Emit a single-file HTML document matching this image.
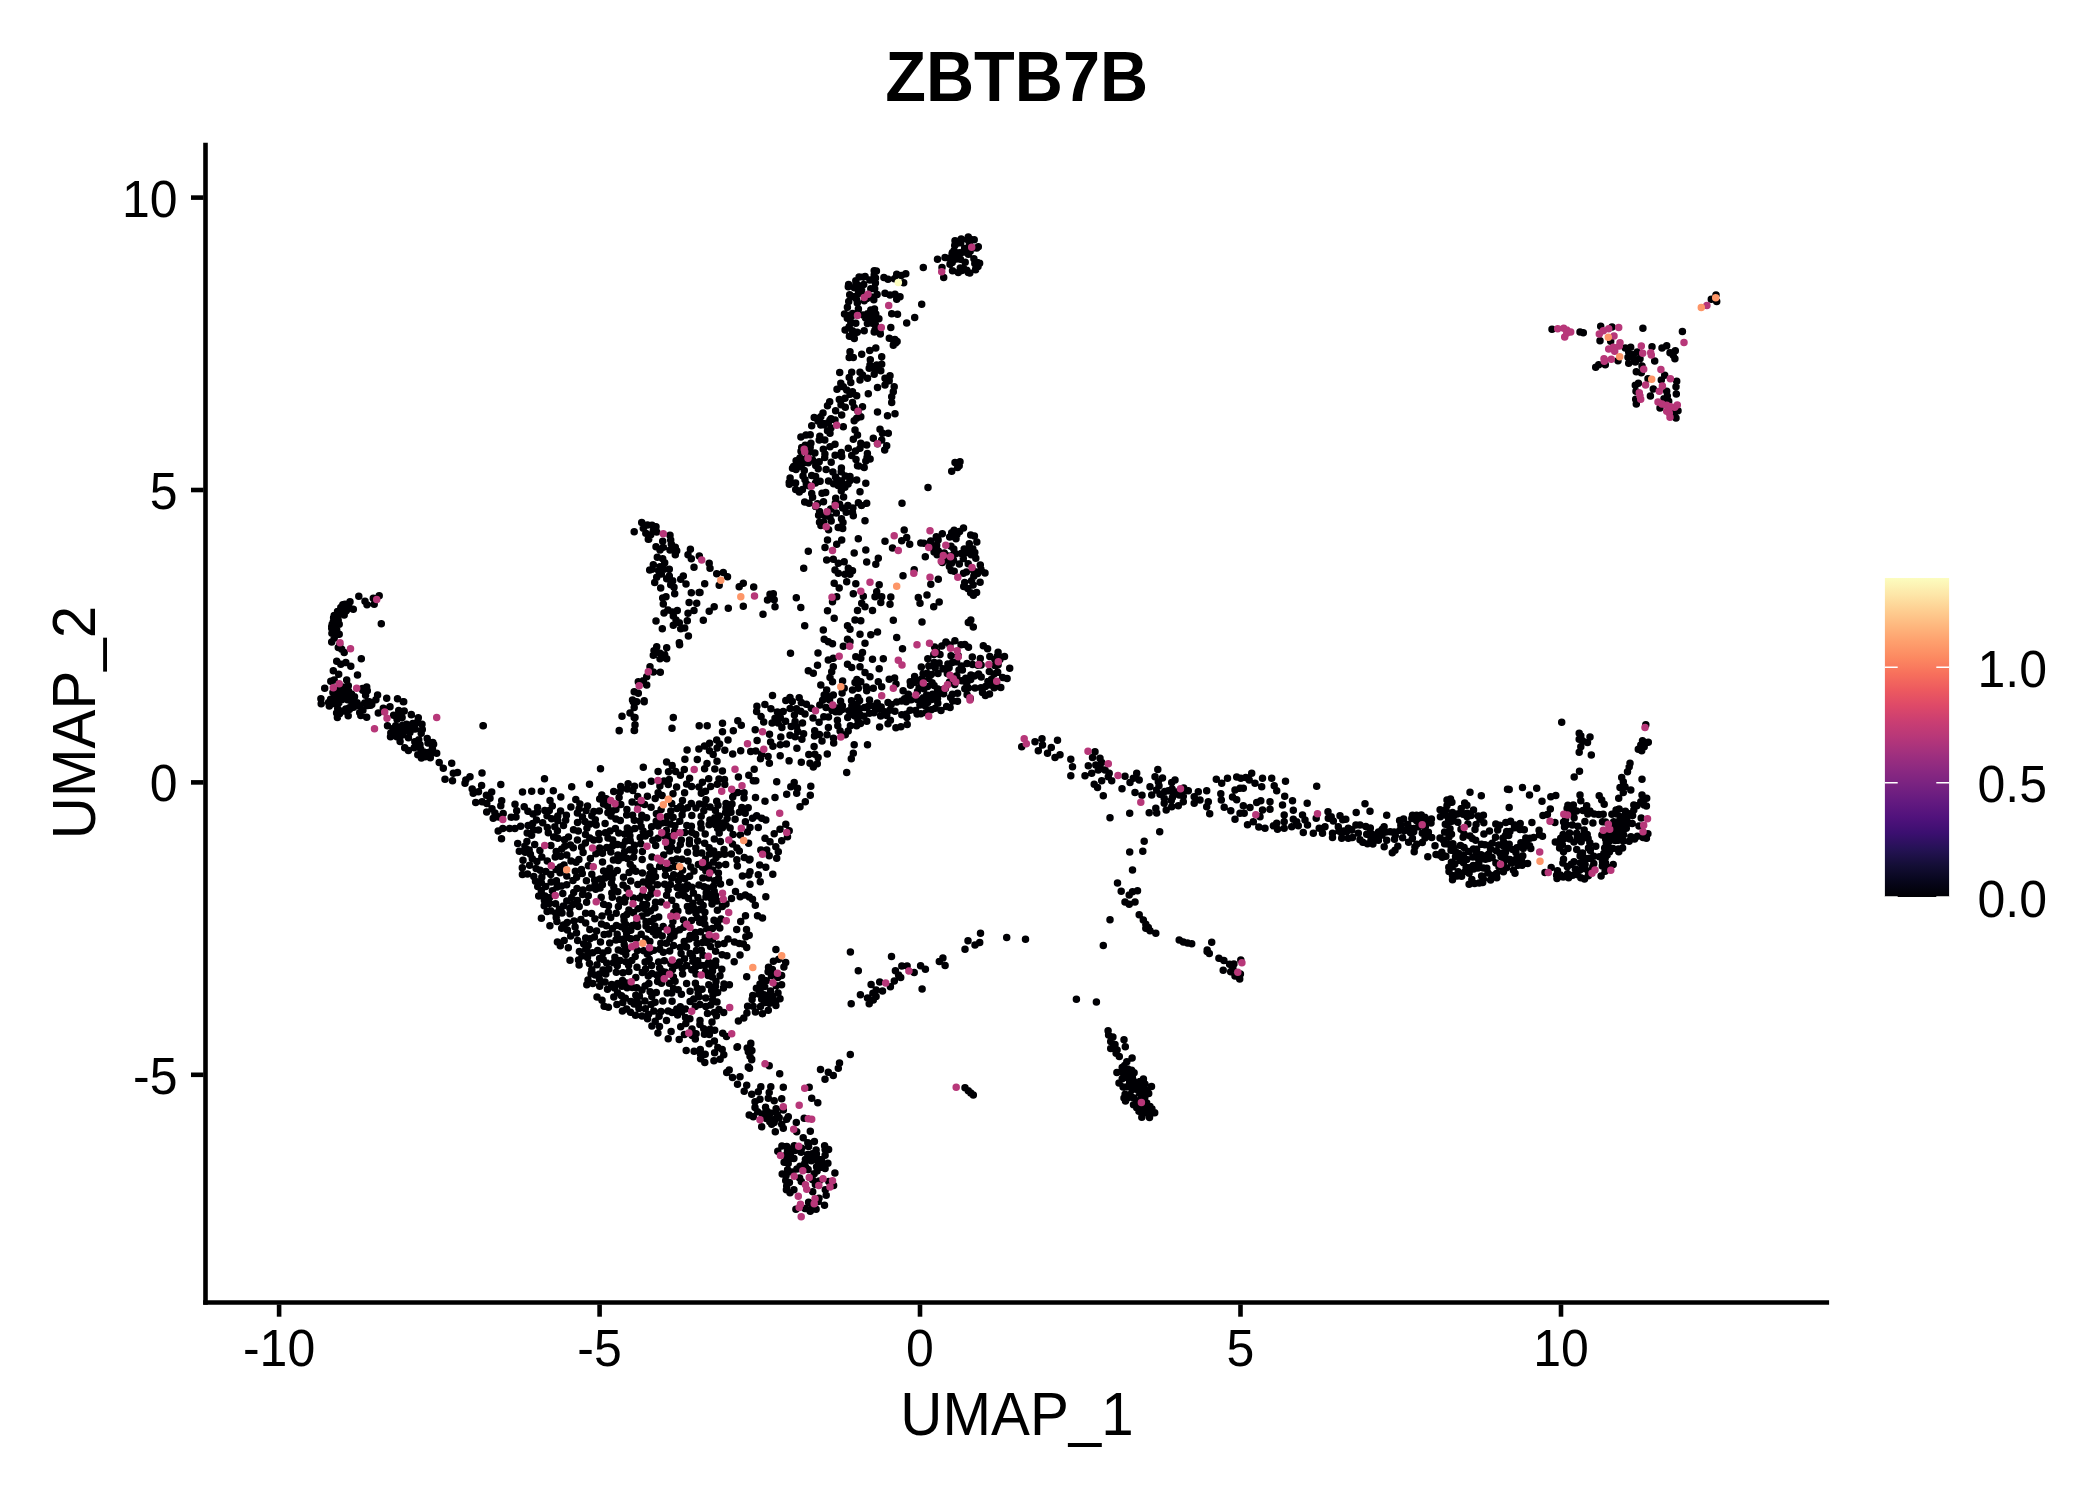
<!DOCTYPE html>
<html lang="en"><head><meta charset="utf-8"><title>ZBTB7B</title>
<style>
html,body{margin:0;padding:0;background:#fff;}
svg{display:block;}
text{font-family:"Liberation Sans",Arial,Helvetica,sans-serif;fill:#000;}
.ax{font-size:50px;}
.at{font-size:58.33px;}
.tt{font-size:66.67px;font-weight:bold;}
.pt{fill:none;stroke-linecap:round;stroke-width:7.5;}
</style></head><body>
<svg width="2100" height="1500" viewBox="0 0 2100 1500">
<rect x="0" y="0" width="2100" height="1500" fill="#ffffff"/>
<g id="points">
<path class="pt" stroke="#000004" d="M960.7 242.7h0M970.5 239.8h0M967.1 250.9h0M952.7 256.3h0M952.1 253.5h0M963.7 268.4h0M954.7 245.5h0M969.8 273.0h0M976.8 248.0h0M960.3 268.0h0M956.4 259.1h0M970.2 251.2h0M967.4 239.4h0M960.4 259.3h0M964.6 248.4h0M974.8 263.6h0M966.8 270.3h0M972.9 247.9h0M955.6 255.6h0M952.2 262.4h0M973.9 258.8h0M968.4 254.3h0M965.2 262.2h0M975.6 269.8h0M959.4 252.8h0M961.8 270.6h0M968.7 247.0h0M979.6 263.2h0M978.0 266.6h0M962.8 252.2h0M957.3 243.2h0M961.2 239.0h0M954.0 250.8h0M969.4 242.6h0M937.5 259.2h0M945.0 257.5h0M949.2 258.3h0M923.3 267.5h0M943.7 277.5h0M955.0 240.8h0M942.0 267.5h0M952.5 252.5h0M950.0 264.2h0M952.5 270.8h0M958.3 272.5h0M968.3 272.5h0M975.8 268.7h0M977.5 262.5h0M978.3 246.7h0M968.3 237.0h0M974.2 239.7h0M858.0 289.3h0M865.1 276.5h0M871.5 297.1h0M863.7 284.6h0M894.5 278.7h0M875.5 277.9h0M876.4 271.0h0M875.5 325.3h0M852.6 313.5h0M875.8 313.9h0M856.4 299.0h0M858.4 309.0h0M856.0 282.4h0M847.4 307.2h0M863.1 315.1h0M867.4 323.5h0M888.0 279.2h0M851.3 316.6h0M864.2 300.8h0M869.5 319.2h0M857.3 302.9h0M858.4 293.4h0M864.4 295.6h0M873.8 299.8h0M869.9 279.9h0M852.9 296.5h0M848.7 301.4h0M857.8 285.3h0M874.5 309.0h0M872.3 323.2h0M849.7 294.7h0M883.9 277.6h0M874.7 288.8h0M854.4 287.7h0M877.1 294.6h0M848.6 284.6h0M844.5 313.9h0M859.1 276.9h0M847.3 318.3h0M870.8 288.8h0M875.4 283.1h0M901.3 275.6h0M873.4 317.1h0M866.9 298.4h0M861.6 289.8h0M874.2 270.8h0M874.2 275.0h0M863.3 277.0h0M855.8 280.8h0M848.3 286.7h0M896.7 274.2h0M905.8 273.8h0M903.7 282.8h0M885.0 293.3h0M890.0 295.0h0M895.0 294.2h0M900.0 296.7h0M896.7 299.2h0M921.7 304.2h0M914.7 317.5h0M906.7 323.0h0M890.8 327.5h0M891.7 313.7h0M897.5 314.2h0M865.6 318.1h0M867.5 313.7h0M875.5 320.5h0M870.8 310.1h0M878.9 318.8h0M857.2 332.3h0M849.2 326.7h0M852.5 330.8h0M849.4 336.3h0M854.3 338.4h0M845.1 329.9h0M853.1 334.8h0M846.7 315.0h0M850.8 322.5h0M855.8 323.3h0M864.2 330.8h0M897.1 341.4h0M880.3 334.1h0M893.3 345.3h0M874.9 330.2h0M895.6 343.0h0M874.2 331.9h0M893.8 341.5h0M880.1 332.5h0M889.3 338.3h0M894.9 339.5h0M850.0 351.7h0M849.2 357.5h0M853.3 357.5h0M861.7 354.2h0M869.7 350.5h0M875.8 348.0h0M881.7 356.7h0M870.3 359.7h0M870.0 365.0h0M876.7 365.0h0M881.7 364.2h0M880.8 370.8h0M874.2 374.2h0M869.2 368.3h0M875.0 369.2h0M839.7 372.5h0M851.7 372.2h0M860.0 372.2h0M849.2 377.5h0M860.0 380.0h0M867.5 378.3h0M850.8 382.5h0M862.5 375.0h0M890.0 375.8h0M885.0 378.3h0M889.2 380.8h0M885.0 385.0h0M894.2 386.7h0M877.5 387.5h0M893.3 391.7h0M868.3 393.7h0M891.7 396.7h0M891.7 402.5h0M840.8 383.3h0M837.0 389.2h0M843.3 386.7h0M846.7 390.0h0M850.0 394.2h0M856.7 395.8h0M852.5 391.7h0M845.0 398.3h0M829.7 401.7h0M827.5 405.8h0M841.0 404.8h0M835.6 410.7h0M845.3 407.2h0M839.3 399.6h0M852.5 402.5h0M854.2 407.5h0M862.5 406.7h0M858.0 411.3h0M877.5 412.0h0M887.5 415.8h0M895.0 413.7h0M841.7 415.0h0M856.7 418.3h0M860.8 416.7h0M854.2 420.8h0M831.0 418.8h0M823.1 423.6h0M830.9 427.9h0M818.0 420.9h0M823.0 413.0h0M828.4 422.5h0M823.8 424.7h0M814.2 417.5h0M820.8 416.7h0M830.0 420.0h0M835.0 420.0h0M811.7 425.8h0M820.8 425.0h0M843.3 426.7h0M827.5 430.8h0M830.0 433.3h0M800.9 437.1h0M810.9 443.3h0M805.2 445.3h0M819.2 440.1h0M806.0 435.0h0M819.8 436.3h0M824.8 439.9h0M810.2 434.8h0M810.2 447.2h0M855.0 430.0h0M857.5 435.0h0M853.3 439.2h0M860.8 443.3h0M880.0 429.2h0M882.5 433.3h0M888.3 433.3h0M873.3 438.3h0M881.7 440.0h0M866.7 445.0h0M886.7 445.8h0M860.0 448.3h0M848.3 448.3h0M835.0 444.2h0M830.0 446.7h0M877.5 443.8h0M801.7 447.5h0M823.3 449.2h0M1552.0 329.3h0M1580.0 332.0h0M1583.3 332.7h0M1600.7 326.3h0M1612.0 327.1h0M1600.0 340.7h0M1610.7 341.3h0M1642.9 328.3h0M1682.4 331.5h0M1625.3 348.0h0M1630.7 347.3h0M1628.7 352.0h0M1633.3 354.7h0M1637.3 352.0h0M1628.0 357.3h0M1634.7 359.3h0M1640.0 358.7h0M1628.7 363.3h0M1635.3 362.0h0M1652.0 346.7h0M1654.7 360.9h0M1662.0 348.0h0M1666.7 345.7h0M1670.0 352.7h0M1675.3 350.7h0M1673.3 355.3h0M1674.9 358.7h0M1618.0 360.7h0M1605.3 364.7h0M1598.7 364.7h0M1595.7 367.3h0M1642.0 366.0h0M1636.3 371.7h0M1641.3 372.7h0M1648.0 378.7h0M1664.7 375.3h0M1661.3 380.0h0M1676.7 381.3h0M1676.0 386.7h0M1638.4 383.3h0M1635.3 385.3h0M1636.0 391.3h0M1653.3 389.1h0M1666.7 391.3h0M1676.3 394.0h0M1650.4 396.0h0M1667.3 396.0h0M1664.0 398.7h0M1635.7 399.3h0M1636.3 404.0h0M1668.7 401.3h0M1660.0 408.0h0M1678.0 410.7h0M1676.0 418.0h0M1673.3 413.3h0M1711.3 299.3h0M1716.0 294.9h0M1716.7 301.6h0M815.7 465.5h0M820.1 481.2h0M805.0 479.7h0M824.9 454.1h0M828.5 481.1h0M789.3 484.2h0M841.2 471.8h0M850.0 476.4h0M842.7 528.6h0M828.6 529.7h0M808.8 485.8h0M815.6 476.6h0M818.6 515.2h0M793.6 466.4h0M835.5 477.1h0M830.7 509.1h0M826.1 469.5h0M823.5 501.7h0M846.2 512.3h0M861.5 505.4h0M812.6 497.2h0M819.6 511.5h0M804.3 470.6h0M808.3 462.8h0M815.5 483.0h0M795.7 489.6h0M867.4 453.4h0M812.6 459.9h0M838.2 527.5h0M819.5 522.2h0M841.4 468.1h0M819.2 461.8h0M839.6 504.3h0M815.6 506.5h0M803.0 476.0h0M835.1 455.3h0M795.6 482.9h0M835.3 503.3h0M848.1 484.1h0M811.7 475.6h0M823.5 522.0h0M801.0 451.2h0M867.0 457.4h0M841.6 480.9h0M831.2 462.2h0M811.7 493.4h0M830.0 517.1h0M820.9 525.4h0M841.5 518.7h0M806.3 483.7h0M822.0 493.2h0M836.3 513.1h0M838.1 485.5h0M844.9 487.2h0M841.3 490.8h0M802.5 489.4h0M796.1 460.7h0M824.7 457.6h0M825.7 492.5h0M858.7 466.1h0M799.3 491.9h0M814.9 453.1h0M802.8 463.4h0M856.0 459.6h0M835.7 498.3h0M837.7 480.0h0M809.1 503.3h0M845.3 476.1h0M865.8 461.0h0M818.2 468.7h0M804.7 502.0h0M799.9 458.0h0M843.0 522.6h0M810.0 451.0h0M843.6 496.9h0M817.6 503.8h0M833.6 483.8h0M807.7 454.9h0M855.5 451.0h0M799.2 466.6h0M827.8 511.8h0M796.0 469.4h0M790.1 478.0h0M852.9 507.9h0M825.2 515.7h0M832.9 472.1h0M847.9 505.4h0M841.7 456.5h0M842.7 508.1h0M851.7 455.5h0M870.1 458.9h0M804.8 459.3h0M858.4 502.8h0M849.9 480.7h0M831.2 520.9h0M841.3 452.6h0M857.5 465.8h0M864.2 467.5h0M856.7 480.0h0M865.8 483.3h0M860.0 491.7h0M866.7 503.3h0M852.5 512.5h0M853.3 515.8h0M865.0 520.8h0M884.7 450.0h0M789.2 482.5h0M792.5 468.3h0M956.7 463.3h0M959.2 465.8h0M951.7 471.3h0M955.0 462.5h0M960.0 461.7h0M957.5 467.5h0M928.0 487.5h0M902.0 503.3h0M827.5 540.0h0M841.7 540.0h0M836.7 544.2h0M825.0 547.5h0M808.3 551.3h0M858.3 538.8h0M854.2 553.0h0M865.8 550.0h0M826.7 560.0h0M833.3 559.2h0M838.3 563.3h0M844.2 561.7h0M866.7 562.0h0M878.3 558.3h0M875.8 564.2h0M803.7 568.3h0M835.0 570.0h0M838.3 573.3h0M848.3 568.3h0M852.5 570.8h0M845.0 574.2h0M850.0 574.2h0M834.2 583.3h0M846.7 581.7h0M855.8 583.8h0M839.2 588.0h0M879.2 584.7h0M853.3 593.7h0M863.3 596.3h0M836.7 596.7h0M832.5 601.7h0M876.7 591.7h0M881.7 596.7h0M890.8 597.0h0M875.0 596.7h0M880.8 602.5h0M890.0 604.2h0M861.7 603.3h0M865.0 606.7h0M857.5 610.5h0M872.5 610.5h0M827.5 610.8h0M834.2 618.3h0M855.0 620.0h0M860.8 620.8h0M847.5 625.8h0M850.0 629.2h0M823.3 630.0h0M804.7 625.8h0M860.0 634.2h0M870.8 634.7h0M877.5 632.0h0M824.2 639.2h0M828.3 641.7h0M832.5 643.7h0M847.5 639.2h0M850.0 641.7h0M843.3 646.3h0M865.0 643.3h0M818.0 653.0h0M790.5 653.3h0M855.8 656.7h0M862.5 652.5h0M860.8 658.3h0M828.3 660.0h0M833.3 658.3h0M872.5 659.2h0M883.3 658.8h0M817.5 665.3h0M808.3 670.8h0M813.3 673.3h0M847.5 664.2h0M851.7 667.5h0M860.0 666.7h0M833.3 666.7h0M831.7 671.7h0M879.2 668.7h0M865.0 672.5h0M870.0 676.7h0M889.2 679.2h0M830.0 677.5h0M832.5 681.7h0M820.8 685.0h0M844.2 688.3h0M855.0 682.5h0M860.8 681.7h0M878.3 681.7h0M852.5 690.0h0M858.3 688.3h0M866.7 690.8h0M873.3 688.3h0M881.7 686.7h0M826.7 690.0h0M824.2 695.0h0M833.3 695.0h0M772.5 695.5h0M790.0 697.5h0M799.2 697.8h0M948.2 555.9h0M972.8 548.8h0M968.2 563.8h0M953.5 560.2h0M974.4 536.1h0M953.8 548.9h0M976.8 542.1h0M954.1 530.3h0M963.5 528.0h0M973.8 576.3h0M973.8 570.9h0M944.3 553.1h0M951.5 563.3h0M971.6 580.7h0M964.2 549.0h0M942.3 533.8h0M977.6 573.5h0M970.7 534.9h0M959.6 531.5h0M936.3 536.7h0M930.7 541.1h0M942.3 562.6h0M931.0 547.4h0M949.7 537.0h0M934.1 552.1h0M954.2 571.2h0M951.7 532.8h0M961.3 553.4h0M970.6 592.8h0M949.4 566.6h0M971.2 554.7h0M980.1 582.3h0M967.8 588.4h0M966.4 571.9h0M951.0 546.2h0M937.1 554.8h0M951.1 570.4h0M964.7 582.6h0M946.6 560.0h0M957.1 534.3h0M973.4 595.3h0M959.3 564.0h0M963.7 586.6h0M955.6 553.8h0M966.8 552.4h0M923.9 543.2h0M967.7 549.2h0M956.0 538.8h0M974.8 552.4h0M973.1 585.1h0M963.3 558.4h0M975.8 558.3h0M938.3 551.1h0M969.3 543.7h0M936.7 545.3h0M952.8 555.2h0M963.5 573.3h0M976.6 592.6h0M985.0 573.0h0M980.9 569.3h0M980.3 565.1h0M938.1 540.0h0M904.2 530.0h0M885.0 541.2h0M892.5 548.0h0M901.7 540.8h0M906.7 537.5h0M909.7 544.2h0M920.8 543.0h0M925.3 556.7h0M914.2 569.7h0M903.0 575.8h0M930.8 584.2h0M938.3 579.2h0M927.0 595.0h0M918.3 597.5h0M920.0 603.3h0M939.2 602.0h0M933.7 606.7h0M893.3 620.3h0M922.0 622.0h0M970.8 620.0h0M968.3 622.5h0M973.3 627.0h0M896.7 637.5h0M902.5 648.7h0M709.2 563.3h0M710.0 568.3h0M716.7 573.7h0M723.3 572.5h0M727.5 576.7h0M704.7 583.7h0M719.2 585.3h0M739.2 586.7h0M743.3 583.3h0M753.7 587.0h0M700.0 592.5h0M770.0 594.2h0M773.3 593.7h0M767.5 600.0h0M774.2 599.7h0M775.0 606.7h0M796.3 597.8h0M800.8 607.5h0M743.3 606.2h0M728.3 608.3h0M714.2 606.7h0M709.2 611.3h0M763.0 614.2h0M703.3 620.3h0M921.3 667.0h0M959.0 670.1h0M994.9 665.4h0M965.7 678.2h0M994.9 659.4h0M950.6 697.4h0M914.6 676.4h0M970.7 679.4h0M1004.5 656.5h0M1009.7 668.2h0M957.6 693.3h0M910.2 681.7h0M972.3 657.0h0M987.6 648.7h0M952.4 662.5h0M964.8 688.7h0M937.4 688.8h0M949.1 667.7h0M935.2 667.9h0M989.8 656.5h0M940.0 654.4h0M982.5 692.6h0M926.6 694.9h0M989.5 694.1h0M970.9 675.1h0M929.0 678.4h0M954.7 684.6h0M910.5 685.3h0M1002.6 677.6h0M945.4 688.5h0M989.3 671.5h0M933.8 654.6h0M951.0 655.7h0M951.9 676.7h0M919.1 687.7h0M967.1 694.7h0M947.3 673.5h0M956.6 661.8h0M932.1 682.7h0M987.9 681.4h0M996.5 682.4h0M981.1 664.9h0M975.0 688.1h0M983.3 645.8h0M967.0 663.5h0M974.4 675.9h0M970.3 698.5h0M994.0 674.1h0M939.1 662.9h0M999.9 659.5h0M978.6 674.1h0M1000.8 687.5h0M934.3 662.5h0M968.3 688.0h0M994.2 687.8h0M997.7 672.2h0M991.4 679.5h0M985.4 695.6h0M931.2 674.4h0M977.8 665.2h0M985.5 686.5h0M954.9 640.7h0M991.4 685.2h0M961.5 666.0h0M968.5 647.3h0M980.3 658.6h0M961.0 644.7h0M911.3 699.8h0M945.9 641.9h0M923.1 673.8h0M942.9 668.8h0M934.1 685.6h0M998.1 664.8h0M1007.1 678.5h0M947.9 664.1h0M923.4 697.8h0M943.6 693.7h0M981.2 677.0h0M921.9 684.1h0M938.0 673.4h0M921.7 679.0h0M972.6 664.4h0M956.8 675.8h0M964.8 644.4h0M998.1 652.3h0M949.9 645.1h0M941.8 645.9h0M958.2 655.7h0M928.8 666.0h0M936.7 651.8h0M927.8 658.7h0M937.1 693.3h0M937.5 698.6h0M952.4 694.3h0M981.0 687.8h0M913.6 682.6h0M949.5 681.9h0M941.9 689.7h0M908.3 694.2h0M934.6 647.1h0M997.5 655.9h0M962.4 669.9h0M916.8 680.4h0M961.6 680.7h0M917.5 691.5h0M966.8 683.5h0M923.9 688.7h0M358.8 596.3h0M365.0 601.2h0M367.0 604.7h0M374.2 604.2h0M379.2 595.8h0M373.3 598.3h0M350.0 601.7h0M345.0 604.2h0M340.8 607.5h0M353.3 609.2h0M346.7 610.0h0M344.2 615.0h0M337.5 615.8h0M340.0 613.3h0M333.3 621.7h0M339.2 624.2h0M335.8 625.8h0M331.7 628.3h0M336.7 630.0h0M334.2 632.5h0M339.2 634.2h0M334.2 638.3h0M331.7 642.0h0M335.1 630.1h0M334.4 626.6h0M332.3 629.7h0M344.9 609.5h0M331.9 633.2h0M332.2 624.3h0M334.2 615.4h0M343.8 609.9h0M342.0 610.9h0M340.7 612.7h0M342.8 604.8h0M333.3 631.4h0M331.7 626.6h0M337.7 621.5h0M341.9 610.8h0M338.2 620.3h0M337.5 611.4h0M342.5 608.9h0M333.6 617.8h0M343.4 609.9h0M348.9 607.2h0M343.7 610.2h0M346.0 611.1h0M333.7 627.2h0M338.0 622.1h0M338.5 614.9h0M338.3 647.5h0M341.7 649.2h0M344.2 652.5h0M339.7 645.0h0M381.3 623.8h0M361.3 658.7h0M336.7 661.3h0M340.8 664.2h0M345.8 662.5h0M350.8 666.3h0M333.3 670.8h0M338.7 674.2h0M357.5 675.0h0M330.8 681.3h0M334.2 680.0h0M346.7 680.0h0M348.3 685.8h0M346.5 695.4h0M332.9 692.4h0M349.1 697.8h0M339.5 713.7h0M332.6 703.6h0M347.8 694.5h0M377.6 694.9h0M364.7 690.3h0M344.7 687.1h0M341.6 699.7h0M362.5 688.6h0M362.7 690.2h0M338.6 696.7h0M358.9 705.5h0M349.4 709.6h0M362.9 710.3h0M346.8 711.2h0M360.8 715.5h0M353.5 701.6h0M343.4 711.1h0M370.7 705.2h0M341.1 700.1h0M345.8 709.1h0M335.9 698.0h0M351.7 697.8h0M337.7 711.2h0M369.3 701.7h0M345.0 691.1h0M336.6 689.8h0M352.9 704.4h0M337.8 713.1h0M330.6 699.2h0M321.2 703.8h0M348.2 715.7h0M364.7 702.9h0M349.4 707.8h0M341.7 696.9h0M354.0 696.7h0M340.8 698.4h0M352.0 704.1h0M347.5 699.7h0M338.9 702.7h0M367.3 690.7h0M337.4 717.6h0M367.9 702.1h0M359.7 712.4h0M343.6 690.2h0M335.7 702.1h0M348.6 691.3h0M329.3 706.0h0M354.5 696.8h0M320.9 698.7h0M365.6 695.2h0M336.6 713.1h0M353.5 707.3h0M330.1 701.6h0M351.5 693.9h0M357.1 702.7h0M343.0 689.1h0M324.7 688.3h0M328.6 702.4h0M367.7 705.4h0M366.7 687.1h0M337.7 708.8h0M339.6 690.6h0M334.3 688.3h0M339.3 700.0h0M341.5 686.8h0M371.8 704.4h0M375.9 699.7h0M386.7 698.3h0M397.5 698.8h0M403.7 701.7h0M390.0 706.7h0M383.3 708.3h0M378.3 713.0h0M398.3 715.0h0M411.3 714.5h0M366.7 717.2h0M483.0 725.8h0M416.9 722.5h0M431.6 753.1h0M400.1 741.5h0M404.7 747.8h0M395.7 725.7h0M393.2 728.4h0M404.4 730.8h0M397.0 719.3h0M402.1 717.4h0M390.8 732.9h0M428.3 752.5h0M422.3 729.4h0M396.0 733.4h0M415.1 728.9h0M390.5 736.7h0M412.8 723.6h0M418.8 739.7h0M400.5 730.1h0M387.5 725.8h0M422.0 724.2h0M425.1 756.7h0M398.7 710.6h0M420.0 744.8h0M393.6 715.2h0M432.4 748.6h0M404.2 711.1h0M414.2 747.7h0M420.7 748.9h0M428.0 742.9h0M396.8 736.8h0M402.6 725.2h0M427.2 738.6h0M408.4 750.4h0M421.2 733.2h0M408.8 728.6h0M409.9 732.4h0M433.6 744.2h0M417.8 754.7h0M421.4 757.9h0M406.5 724.3h0M641.7 522.5h0M634.2 531.7h0M643.3 528.3h0M647.5 525.0h0M648.3 539.2h0M645.8 533.3h0M649.7 570.0h0M646.7 676.7h0M643.3 680.8h0M638.3 681.7h0M646.7 685.0h0M634.2 691.7h0M638.3 693.3h0M632.5 700.0h0M636.7 701.7h0M644.2 700.8h0M634.2 707.5h0M630.0 713.0h0M622.0 716.2h0M634.2 717.5h0M635.0 724.7h0M619.2 730.8h0M634.2 730.5h0M483.3 725.8h0M411.3 714.7h0M403.3 701.7h0M432.8 742.5h0M482.0 773.0h0M500.8 784.5h0M544.5 778.8h0M600.5 768.8h0M643.3 767.2h0M589.5 784.2h0M571.7 786.7h0M522.5 792.0h0M531.7 791.3h0M541.3 791.2h0M553.3 790.8h0M560.8 797.0h0M550.0 800.5h0M575.8 799.5h0M491.7 792.0h0M501.7 800.8h0M500.8 805.8h0M515.0 804.2h0M524.2 806.7h0M516.7 810.8h0M537.5 807.5h0M414.8 741.7h0M430.3 757.8h0M418.3 717.7h0M408.4 737.8h0M402.4 735.1h0M423.8 752.0h0M436.7 753.3h0M439.2 762.5h0M443.3 768.3h0M451.7 763.3h0M457.5 772.5h0M453.3 773.3h0M445.0 779.2h0M452.5 780.8h0M465.0 783.3h0M470.0 776.7h0M465.8 780.0h0M486.7 812.1h0M473.2 793.3h0M481.6 785.5h0M492.0 808.8h0M478.5 791.8h0M472.2 788.9h0M486.4 795.2h0M490.0 798.3h0M493.2 818.2h0M475.7 802.6h0M494.9 813.0h0M482.1 801.7h0M486.8 803.5h0M633.3 701.7h0M644.2 701.7h0M634.2 707.5h0M630.0 713.0h0M622.0 716.3h0M635.0 717.5h0M635.0 725.0h0M619.2 730.5h0M634.5 730.5h0M673.3 717.5h0M672.0 728.3h0M699.2 725.8h0M707.2 725.8h0M722.5 723.3h0M737.8 720.8h0M722.5 731.7h0M733.3 730.8h0M716.7 740.0h0M728.0 740.0h0M692.0 1028.9h0M692.9 961.2h0M657.6 884.7h0M717.8 1047.6h0M669.4 868.0h0M690.1 991.3h0M625.8 961.8h0M585.7 937.9h0M599.7 799.1h0M582.3 873.5h0M556.4 880.8h0M717.4 910.2h0M609.7 942.9h0M573.5 829.8h0M644.6 804.6h0M692.9 903.2h0M716.7 801.2h0M566.8 854.9h0M502.8 828.6h0M715.6 965.4h0M718.5 878.5h0M531.6 835.3h0M550.7 874.5h0M686.6 965.6h0M599.5 974.1h0M601.8 794.9h0M655.5 876.7h0M622.1 951.2h0M562.0 913.1h0M680.2 875.2h0M520.6 826.2h0M604.1 934.4h0M645.9 939.1h0M663.3 952.2h0M690.1 1001.6h0M567.4 930.1h0M735.1 819.3h0M662.8 1001.1h0M624.0 939.1h0M589.5 824.3h0M730.1 827.9h0M613.4 873.6h0M725.6 812.5h0M682.5 800.5h0M639.7 898.0h0M655.7 845.4h0M560.7 856.2h0M606.8 847.5h0M659.6 866.5h0M748.6 843.3h0M641.1 826.4h0M580.9 919.4h0M722.4 827.7h0M669.7 951.1h0M720.4 841.4h0M720.5 884.0h0M503.2 813.6h0M683.2 809.6h0M729.4 984.7h0M720.1 1059.2h0M555.6 903.8h0M719.3 816.1h0M620.3 820.4h0M605.4 832.7h0M670.4 823.9h0M585.4 842.9h0M682.0 859.3h0M541.8 856.9h0M625.7 897.5h0M637.8 884.6h0M662.2 935.9h0M635.8 977.4h0M678.6 895.0h0M577.5 900.6h0M731.3 854.1h0M651.6 888.7h0M557.9 838.2h0M695.3 1039.1h0M579.1 964.9h0M635.9 871.3h0M685.8 1023.5h0M656.3 992.4h0M592.8 983.5h0M596.6 930.9h0M652.0 973.6h0M578.5 960.0h0M634.4 845.2h0M652.0 857.0h0M679.6 929.7h0M617.6 844.6h0M630.8 930.3h0M630.5 1012.2h0M557.4 830.8h0M704.9 912.3h0M659.1 1016.2h0M707.5 1013.4h0M528.1 825.5h0M560.6 811.1h0M628.9 910.1h0M610.7 917.4h0M699.0 996.7h0M589.8 929.4h0M557.1 886.9h0M583.0 889.9h0M501.5 838.8h0M714.3 839.1h0M604.1 1006.2h0M571.7 897.4h0M661.0 1011.5h0M677.1 887.4h0M665.4 875.2h0M647.0 912.9h0M602.0 916.0h0M722.3 906.5h0M621.3 926.8h0M705.6 971.7h0M684.3 895.7h0M637.1 999.7h0M691.8 815.4h0M703.8 810.8h0M669.3 983.2h0M619.1 797.5h0M671.8 900.3h0M703.7 1028.8h0M533.8 876.6h0M628.1 783.7h0M637.6 926.6h0M699.9 1024.4h0M591.6 913.4h0M637.7 796.5h0M576.5 932.9h0M600.5 941.9h0M578.9 859.4h0M698.4 864.5h0M676.8 1009.1h0M606.7 962.9h0M638.9 1008.6h0M623.0 972.7h0M549.3 810.5h0M663.7 854.9h0M673.0 793.8h0M708.5 865.1h0M577.6 940.6h0M614.5 988.1h0M605.8 974.1h0M630.2 864.3h0M715.6 951.2h0M532.3 858.7h0M610.8 852.0h0M684.8 832.6h0M696.4 950.6h0M613.7 791.5h0M626.9 809.5h0M643.2 881.9h0M591.8 969.7h0M538.5 830.0h0M710.1 1029.2h0M632.6 815.3h0M615.4 828.4h0M632.5 925.4h0M589.8 838.0h0M599.1 839.6h0M529.2 849.9h0M717.5 924.0h0M697.1 943.4h0M671.3 846.9h0M686.8 825.5h0M695.4 983.2h0M672.0 1012.5h0M601.2 897.2h0M519.3 851.3h0M682.6 974.1h0M697.3 917.8h0M622.8 1002.5h0M658.0 838.3h0M655.2 1021.3h0M696.0 808.1h0M678.5 880.8h0M667.2 993.0h0M685.5 1017.6h0M696.2 853.3h0M709.1 847.7h0M547.1 911.6h0M556.9 921.4h0M695.3 1006.6h0M705.9 897.0h0M708.6 878.1h0M647.5 1018.7h0M620.7 786.6h0M602.9 953.1h0M551.1 882.1h0M570.9 806.9h0M608.8 969.1h0M701.2 816.2h0M705.2 834.1h0M722.1 954.7h0M701.8 853.0h0M586.1 810.6h0M627.0 888.6h0M654.9 907.7h0M664.3 960.8h0M668.2 1038.7h0M623.0 884.9h0M744.0 798.1h0M708.2 975.4h0M638.0 908.7h0M681.4 994.2h0M722.5 822.9h0M570.7 936.0h0M668.2 889.7h0M671.8 860.5h0M705.9 1006.6h0M584.9 821.6h0M540.2 870.3h0M740.4 835.0h0M607.9 812.7h0M562.8 893.5h0M564.5 839.7h0M708.8 962.3h0M694.0 871.1h0M616.0 940.1h0M566.7 884.7h0M570.0 960.3h0M635.8 995.3h0M672.1 1001.2h0M684.8 878.7h0M585.5 834.6h0M628.9 971.4h0M601.5 924.1h0M712.5 971.0h0M642.2 859.5h0M710.7 1005.1h0M709.1 824.8h0M704.7 965.6h0M675.1 981.2h0M705.5 859.3h0M550.9 845.4h0M588.0 979.9h0M656.2 821.3h0M701.3 793.2h0M640.8 843.7h0M697.7 841.1h0M632.9 790.6h0M624.7 902.0h0M680.3 947.5h0M700.5 1054.1h0M612.0 878.7h0M545.0 896.0h0M568.5 837.0h0M608.0 838.0h0M564.2 940.6h0M686.2 1050.4h0M715.5 986.3h0M586.9 828.3h0M541.3 882.5h0M612.1 810.9h0M625.5 841.2h0M607.5 989.3h0M709.9 819.9h0M695.9 913.2h0M632.1 802.1h0M721.0 919.1h0M593.8 811.4h0M646.6 817.7h0M645.1 962.1h0M675.9 906.4h0M677.6 849.9h0M684.6 792.8h0M732.5 844.1h0M563.5 825.4h0M701.2 828.1h0M696.1 1033.8h0M712.4 939.3h0M704.8 924.2h0M653.8 950.3h0M699.3 804.0h0M549.4 903.4h0M712.0 1022.1h0M648.5 929.2h0M612.3 897.3h0M651.6 965.5h0M708.8 984.8h0M712.0 903.9h0M719.2 832.9h0M573.0 880.6h0M579.1 808.8h0M689.9 1018.8h0M705.8 870.8h0M741.8 807.4h0M747.4 831.9h0M671.7 993.1h0M687.5 852.3h0M671.9 841.2h0M659.8 949.3h0M533.0 813.9h0M691.7 832.3h0M522.3 867.8h0M645.5 969.1h0M542.7 822.7h0M679.8 821.2h0M525.2 852.3h0M553.7 836.9h0M552.4 890.7h0M589.4 963.5h0M677.0 808.5h0M629.8 849.8h0M577.4 840.1h0M664.7 884.2h0M618.8 832.9h0M627.2 788.9h0M661.7 823.0h0M700.3 1049.6h0M517.7 843.4h0M686.5 947.1h0M736.9 848.0h0M612.5 846.0h0M600.0 879.1h0M557.8 816.1h0M721.8 969.3h0M714.6 1052.8h0M717.2 900.9h0M626.7 815.0h0M645.3 1008.7h0M724.1 943.4h0M561.7 848.9h0M684.5 958.7h0M616.3 972.2h0M676.4 965.2h0M695.8 847.9h0M549.4 897.8h0M603.5 804.0h0M541.4 918.3h0M537.7 886.6h0M657.6 981.5h0M690.8 867.1h0M632.3 987.4h0M498.2 831.0h0M555.2 857.0h0M629.1 872.6h0M697.3 988.2h0M645.3 836.1h0M640.0 821.1h0M680.3 844.5h0M575.3 871.3h0M651.1 807.2h0M547.0 815.8h0M625.2 929.5h0M630.9 1001.4h0M594.9 918.8h0M617.7 983.6h0M691.9 887.2h0M727.1 818.5h0M614.9 957.3h0M607.7 806.3h0M514.9 828.4h0M582.5 816.9h0M684.4 1034.4h0M570.0 913.7h0M678.2 989.7h0M739.4 812.3h0M702.8 877.9h0M578.3 830.9h0M544.4 900.4h0M642.4 784.9h0M690.1 953.6h0M589.6 888.0h0M524.9 846.3h0M657.9 1033.1h0M662.1 795.6h0M583.1 852.6h0M522.4 874.6h0M682.6 870.2h0M718.1 944.2h0M706.8 928.7h0M619.5 899.8h0M673.1 817.3h0M646.5 904.4h0M685.4 1008.9h0M666.1 822.5h0M700.3 901.9h0M566.8 900.9h0M626.8 914.5h0M561.7 928.2h0M645.1 986.0h0M686.6 983.5h0M676.8 859.1h0M709.1 1043.8h0M613.4 962.8h0M547.3 827.6h0M552.3 806.1h0M545.9 871.4h0M624.7 834.0h0M618.4 906.5h0M533.6 829.9h0M586.6 902.3h0M596.2 825.1h0M598.8 833.6h0M658.7 917.0h0M651.1 1004.4h0M595.1 884.7h0M566.8 876.1h0M700.8 823.6h0M679.2 1039.6h0M730.3 807.4h0M714.2 891.2h0M744.1 792.8h0M511.2 817.2h0M656.4 813.8h0M595.9 853.7h0M535.5 881.3h0M649.1 877.4h0M714.4 1040.9h0M541.3 890.5h0M699.9 1004.4h0M666.3 943.3h0M577.0 888.6h0M704.8 1062.4h0M651.6 826.8h0M714.0 920.3h0M523.0 860.3h0M661.1 809.6h0M621.9 986.3h0M688.9 911.1h0M715.5 895.6h0M733.0 834.4h0M623.5 877.2h0M616.9 1004.4h0M555.7 913.1h0M705.2 1054.2h0M670.0 938.8h0M621.8 857.8h0M590.0 938.8h0M745.4 821.7h0M594.4 936.9h0M670.4 884.5h0M650.0 867.0h0M548.3 832.7h0M719.8 927.9h0M599.5 979.4h0M745.2 813.3h0M724.7 854.2h0M624.2 944.6h0M634.5 786.3h0M617.8 891.7h0M649.8 833.2h0M661.2 901.9h0M575.1 926.9h0M536.1 868.4h0M655.2 798.5h0M624.1 920.2h0M622.4 1010.9h0M673.5 945.6h0M680.7 1026.7h0M658.1 826.0h0M640.2 837.6h0M603.0 970.0h0M704.1 918.6h0M611.4 883.3h0M695.5 967.2h0M683.5 920.0h0M590.4 858.4h0M603.6 870.9h0M536.9 861.5h0M591.8 815.8h0M597.6 950.5h0M595.7 889.3h0M689.6 876.2h0M642.4 873.1h0M602.4 884.8h0M713.7 850.9h0M655.1 1002.2h0M687.4 906.6h0M748.2 807.7h0M606.4 925.7h0M581.9 956.0h0M588.3 895.8h0M599.7 847.9h0M707.5 888.1h0M635.2 956.5h0M707.0 942.4h0M687.5 885.0h0M571.0 860.9h0M608.4 1007.2h0M702.1 989.2h0M651.9 1025.9h0M682.2 968.2h0M616.4 925.4h0M649.2 959.2h0M696.0 973.9h0M703.2 905.6h0M544.8 810.5h0M534.7 844.6h0M617.2 934.2h0M641.2 934.2h0M659.8 977.6h0M560.3 866.9h0M613.8 887.1h0M688.5 898.5h0M608.5 905.7h0M642.4 851.4h0M615.9 819.1h0M681.3 839.9h0M659.6 967.9h0M608.7 874.0h0M688.1 860.9h0M724.0 849.4h0M602.5 853.3h0M715.4 810.4h0M567.3 922.6h0M544.2 905.7h0M568.3 947.7h0M699.7 922.3h0M625.7 924.6h0M703.0 955.2h0M638.2 804.5h0M617.3 965.8h0M617.3 870.4h0M666.4 830.2h0M624.5 851.7h0M633.6 857.2h0M702.6 942.4h0M693.8 908.1h0M613.8 997.0h0M577.4 813.1h0M653.8 1010.9h0M697.7 960.8h0M574.1 921.1h0M597.0 964.7h0M599.3 810.9h0M636.7 987.7h0M675.3 931.6h0M694.1 1051.3h0M594.6 879.9h0M709.7 894.4h0M536.4 819.9h0M704.7 843.3h0M716.4 1015.8h0M634.3 820.3h0M667.3 816.5h0M693.9 998.9h0M537.4 812.1h0M687.5 807.8h0M695.4 932.5h0M691.4 826.3h0M709.4 1034.5h0M569.8 908.2h0M722.2 1049.5h0M608.7 934.1h0M637.0 967.2h0M620.2 791.7h0M611.7 984.5h0M581.6 847.3h0M573.3 847.7h0M675.2 866.5h0M695.4 937.7h0M643.1 830.9h0M682.1 815.0h0M627.3 858.4h0M527.2 832.9h0M560.3 945.7h0M609.9 868.3h0M585.7 923.0h0M665.3 836.4h0M655.5 902.3h0M566.4 815.3h0M714.8 817.8h0M582.5 894.6h0M702.5 867.2h0M620.8 804.4h0M681.1 953.5h0M608.0 950.4h0M672.9 921.5h0M626.6 1009.0h0M660.8 943.3h0M673.5 988.5h0M637.4 950.5h0M700.6 1058.8h0M526.9 841.5h0M646.0 921.8h0M603.6 904.3h0M583.7 944.1h0M579.2 906.4h0M563.3 906.1h0M597.0 997.0h0M565.7 820.2h0M673.8 912.4h0M630.2 840.5h0M541.8 877.2h0M705.2 937.7h0M651.9 881.0h0M663.2 926.5h0M577.5 822.5h0M529.6 865.3h0M712.3 977.0h0M697.9 897.6h0M538.7 895.9h0M636.5 938.2h0M641.8 815.3h0M718.4 873.1h0M689.3 939.1h0M630.8 938.8h0M633.5 898.1h0M618.2 860.6h0M699.0 885.0h0M720.0 975.8h0M700.6 931.7h0M724.0 984.1h0M677.6 1015.0h0M516.0 817.0h0M616.2 913.3h0M586.4 880.8h0M705.9 799.8h0M588.2 945.4h0M718.9 854.7h0M561.4 885.9h0M666.5 1020.5h0M530.4 854.3h0M648.5 885.2h0M651.8 996.6h0M617.6 992.8h0M587.5 957.4h0M560.1 872.8h0M527.5 874.0h0M602.0 1000.2h0M622.5 980.6h0M711.6 990.6h0M652.8 840.3h0M715.8 960.9h0M593.7 840.1h0M612.7 840.1h0M704.4 1034.3h0M726.0 803.5h0M642.3 972.6h0M658.2 930.5h0M712.9 994.9h0M539.9 850.4h0M605.0 982.0h0M595.3 819.8h0M617.9 855.0h0M509.6 828.4h0M715.4 824.7h0M625.8 954.5h0M647.4 796.2h0M717.6 828.6h0M557.8 820.8h0M612.4 928.5h0M695.8 834.6h0M586.8 984.8h0M643.7 908.2h0M551.6 818.7h0M557.4 942.0h0M713.4 886.3h0M648.6 1014.3h0M654.8 926.1h0M634.9 828.6h0M716.0 981.4h0M691.3 803.4h0M613.4 860.0h0M554.8 826.7h0M717.0 1001.9h0M654.1 918.5h0M626.3 982.9h0M713.4 862.1h0M650.1 991.8h0M709.5 854.0h0M670.6 933.3h0M732.7 796.9h0M635.5 1015.3h0M579.9 803.9h0M631.8 960.4h0M608.3 912.2h0M532.7 823.4h0M606.3 798.7h0M572.9 904.5h0M556.2 851.5h0M718.7 865.2h0M592.7 952.7h0M674.5 831.2h0M705.8 998.1h0M710.1 806.9h0M633.5 912.8h0M627.1 987.7h0M712.4 928.4h0M628.6 965.3h0M602.5 862.0h0M737.9 792.6h0M498.8 817.1h0M587.5 805.9h0M630.3 830.1h0M642.0 1016.1h0M599.7 986.2h0M642.0 990.0h0M666.6 895.3h0M673.4 976.9h0M705.5 791.3h0M671.7 878.2h0M684.2 941.4h0M650.8 894.3h0M527.9 811.2h0M665.5 972.3h0M627.3 949.1h0M621.5 995.8h0M549.9 925.8h0M671.1 1031.4h0M682.7 887.0h0M719.0 1009.5h0M585.6 913.3h0M625.3 998.2h0M547.3 861.0h0M674.9 825.8h0M691.5 920.6h0M622.8 845.3h0M726.0 904.1h0M717.6 821.4h0M648.3 976.1h0M704.0 886.8h0M726.9 955.8h0M749.2 935.2h0M692.5 956.7h0M701.3 950.2h0M731.0 812.3h0M680.3 1006.8h0M556.2 917.4h0M570.5 844.9h0M736.7 929.6h0M740.2 896.7h0M564.0 864.9h0M650.5 921.3h0M682.1 891.2h0M559.4 909.6h0M563.5 924.9h0M623.8 916.5h0M698.2 993.1h0M689.5 839.9h0M739.3 943.6h0M634.1 1004.0h0M649.9 941.6h0M634.2 850.9h0M673.7 874.8h0M740.7 921.5h0M700.0 1020.5h0M670.9 963.8h0M667.5 847.1h0M585.7 949.2h0M734.3 793.4h0M690.2 935.5h0M642.3 895.3h0M649.9 873.9h0M748.8 875.0h0M717.6 992.6h0M644.9 1000.9h0M564.7 846.2h0M735.5 891.5h0M681.5 1011.7h0M550.6 910.8h0M591.0 973.8h0M648.9 983.5h0M611.0 815.9h0M711.6 899.2h0M725.7 864.5h0M689.4 843.8h0M731.5 898.6h0M672.5 969.4h0M686.0 889.1h0M712.7 869.9h0M704.3 804.5h0M653.2 932.0h0M620.1 960.4h0M729.7 882.3h0M650.5 911.0h0M716.1 857.5h0M600.1 888.1h0M745.5 915.8h0M693.4 893.1h0M545.7 886.4h0M745.8 936.8h0M591.8 874.3h0M658.6 962.0h0M670.8 810.9h0M677.9 911.0h0M588.3 952.5h0M671.7 803.6h0M599.6 958.6h0M726.0 807.9h0M605.1 823.5h0M630.7 880.9h0M745.3 895.1h0M668.2 1010.9h0M725.9 825.0h0M749.3 896.9h0M632.9 867.7h0M692.2 1035.6h0M638.5 1003.8h0M699.8 909.4h0M691.8 969.7h0M648.0 881.0h0M642.8 904.4h0M620.0 939.3h0M603.2 959.5h0M643.7 950.8h0M749.3 860.1h0M650.2 951.5h0M714.4 1012.6h0M714.7 880.7h0M611.8 893.0h0M718.0 805.2h0M653.8 871.3h0M595.1 975.0h0M655.8 935.0h0M683.9 927.2h0M743.4 944.1h0M728.0 939.1h0M626.6 933.5h0M576.1 862.3h0M618.3 950.0h0M661.7 970.9h0M680.4 806.4h0M573.7 892.4h0M673.9 936.0h0M647.3 954.0h0M742.4 876.1h0M661.4 983.3h0M579.4 951.6h0M588.4 865.8h0M723.5 987.9h0M615.9 809.4h0M706.2 892.9h0M711.8 966.3h0M646.0 925.9h0M656.9 975.1h0M732.0 804.0h0M610.0 830.9h0M604.9 878.1h0M744.3 857.5h0M746.5 929.5h0M629.9 835.7h0M679.6 961.9h0M710.5 946.4h0M736.8 859.7h0M642.0 915.9h0M737.4 866.0h0M659.5 1026.5h0M712.8 1000.2h0M734.4 941.9h0M639.4 996.1h0M671.7 927.3h0M669.3 836.3h0M669.8 850.9h0M647.8 897.5h0M581.4 869.4h0M556.1 869.5h0M576.6 877.2h0M636.9 922.2h0M665.6 869.2h0M627.3 828.0h0M700.6 965.2h0M739.3 851.1h0M719.0 779.0h0M676.6 787.0h0M738.4 776.9h0M687.1 750.0h0M708.7 778.8h0M691.6 786.6h0M707.0 763.5h0M689.6 778.2h0M704.6 768.7h0M709.6 743.3h0M717.3 784.3h0M748.8 775.3h0M702.4 782.2h0M659.9 786.0h0M717.0 761.2h0M669.3 779.6h0M684.9 759.3h0M668.3 784.6h0M704.5 746.0h0M741.3 725.3h0M684.3 769.4h0M740.7 750.7h0M722.4 771.1h0M675.6 771.6h0M698.9 748.9h0M724.8 750.2h0M658.1 792.8h0M699.0 787.0h0M714.8 768.9h0M686.6 784.0h0M664.0 781.0h0M680.4 775.3h0M719.6 743.9h0M717.1 748.1h0M709.5 750.7h0M710.7 786.5h0M651.3 781.3h0M697.3 759.6h0M672.2 765.6h0M724.5 779.5h0M666.6 761.9h0M724.8 784.4h0M668.5 771.8h0M658.1 771.4h0M732.7 754.1h0M713.2 754.5h0M750.0 1056.3h0M723.7 1012.4h0M726.5 1036.6h0M743.8 1018.1h0M738.4 1021.0h0M713.9 1060.8h0M749.5 1068.2h0M723.8 1054.8h0M751.9 1050.6h0M714.7 1030.2h0M747.2 1047.9h0M722.7 1033.3h0M783.9 967.0h0M762.4 1013.7h0M772.4 969.5h0M771.4 975.5h0M781.6 984.7h0M776.3 985.8h0M764.0 994.8h0M775.9 949.4h0M761.7 999.2h0M764.7 986.4h0M768.3 1010.2h0M752.1 999.6h0M752.7 995.4h0M767.7 997.3h0M770.5 990.9h0M746.9 1013.1h0M773.4 961.3h0M758.9 994.0h0M778.0 993.1h0M760.6 1006.5h0M785.7 962.4h0M778.8 959.3h0M780.0 998.7h0M761.8 977.7h0M768.1 971.8h0M747.6 1006.3h0M781.6 975.5h0M753.1 1006.2h0M769.6 1003.2h0M775.7 1000.9h0M755.4 1012.0h0M768.5 967.3h0M756.4 988.2h0M772.5 996.6h0M760.0 984.1h0M777.8 977.5h0M765.1 1002.5h0M760.7 988.3h0M775.9 1005.4h0M766.3 980.8h0M750.8 1043.3h0M737.5 1046.7h0M748.3 1051.7h0M751.7 1059.2h0M748.3 1067.0h0M746.7 947.5h0M734.2 961.7h0M746.7 976.7h0M740.0 955.0h0M803.6 733.7h0M828.5 717.1h0M781.9 727.4h0M769.4 763.3h0M819.1 722.3h0M795.2 736.8h0M760.5 758.7h0M770.9 708.8h0M805.0 714.0h0M806.4 704.3h0M768.1 756.5h0M780.8 737.1h0M775.0 718.2h0M780.3 744.8h0M814.9 754.3h0M801.3 702.5h0M780.2 755.8h0M813.3 766.9h0M828.4 727.4h0M822.6 700.2h0M790.0 735.3h0M755.7 750.9h0M813.0 717.9h0M792.3 701.5h0M772.1 723.1h0M814.7 730.8h0M755.2 729.8h0M800.7 711.2h0M764.9 704.4h0M756.9 706.3h0M772.9 746.3h0M802.5 722.9h0M791.2 726.6h0M796.4 708.7h0M823.8 716.7h0M794.4 715.1h0M785.6 721.2h0M801.3 762.3h0M786.4 744.0h0M778.1 723.1h0M785.8 700.4h0M827.0 734.7h0M796.9 748.3h0M757.1 740.5h0M810.0 763.2h0M808.8 754.4h0M811.3 708.2h0M795.1 721.4h0M819.8 705.1h0M780.3 717.5h0M797.7 731.5h0M814.1 746.4h0M783.2 711.4h0M818.1 757.4h0M769.5 734.2h0M770.6 742.1h0M826.0 707.6h0M750.7 751.4h0M761.1 716.6h0M822.0 741.0h0M789.1 760.8h0M801.9 739.2h0M817.3 763.8h0M827.3 753.9h0M829.6 700.1h0M777.4 711.9h0M763.7 722.0h0M819.4 734.4h0M790.1 708.6h0M756.6 711.4h0M761.6 754.0h0M814.5 735.9h0M796.6 726.7h0M850.4 725.7h0M856.6 725.8h0M877.2 702.9h0M850.6 714.1h0M878.1 709.1h0M925.4 705.9h0M901.8 714.7h0M922.0 702.1h0M833.5 738.2h0M860.5 723.5h0M848.9 710.8h0M889.7 710.3h0M957.5 701.2h0M890.4 720.2h0M835.6 711.8h0M910.1 710.3h0M874.0 712.8h0M941.0 710.5h0M848.2 731.0h0M937.8 703.2h0M857.1 704.6h0M906.2 701.8h0M931.3 709.8h0M832.0 710.3h0M840.1 731.1h0M857.8 719.4h0M920.9 713.7h0M950.1 707.5h0M855.1 711.3h0M917.1 713.9h0M888.0 702.6h0M845.3 734.8h0M842.4 705.9h0M886.8 715.6h0M915.5 710.5h0M839.4 711.7h0M859.6 700.4h0M833.7 743.1h0M840.6 701.3h0M906.9 717.6h0M851.8 706.1h0M906.1 714.2h0M900.9 726.8h0M868.3 706.2h0M881.2 707.0h0M895.9 727.8h0M873.9 706.1h0M952.7 701.0h0M866.8 721.3h0M869.4 713.3h0M847.7 717.6h0M859.7 714.4h0M888.0 723.8h0M907.2 724.4h0M946.6 706.6h0M863.9 716.2h0M880.7 715.9h0M859.4 708.9h0M854.9 716.1h0M896.7 701.9h0M879.6 727.1h0M837.8 725.7h0M901.6 701.1h0M851.5 700.8h0M837.4 720.3h0M837.3 707.9h0M864.5 707.6h0M926.1 712.8h0M927.7 702.6h0M894.9 711.3h0M842.1 709.6h0M754.2 769.2h0M753.3 780.8h0M755.8 780.8h0M776.7 781.7h0M794.2 782.5h0M790.8 786.7h0M797.5 788.3h0M796.7 793.3h0M786.7 794.2h0M810.8 786.2h0M810.3 795.3h0M775.0 797.5h0M755.5 797.5h0M765.0 801.2h0M805.3 801.7h0M800.0 806.7h0M846.7 772.5h0M851.3 758.7h0M853.3 753.3h0M854.2 744.7h0M867.5 744.7h0M752.5 818.3h0M756.7 815.8h0M761.7 818.3h0M765.8 820.0h0M758.3 827.5h0M750.0 827.5h0M785.8 824.2h0M780.0 829.2h0M774.2 833.7h0M789.2 830.8h0M765.0 838.3h0M770.0 841.7h0M781.7 840.8h0M787.5 836.7h0M775.8 846.7h0M760.8 850.0h0M766.7 850.0h0M778.3 851.7h0M769.2 855.8h0M776.7 858.3h0M750.0 859.2h0M759.7 865.0h0M765.8 867.2h0M758.3 874.7h0M772.8 874.2h0M750.0 871.7h0M760.3 881.7h0M750.0 884.2h0M765.8 896.7h0M752.5 899.2h0M755.3 905.3h0M757.5 915.8h0M762.5 918.0h0M927.6 686.4h0M927.1 673.3h0M935.2 708.3h0M931.7 699.6h0M866.2 687.0h0M919.9 705.0h0M932.5 694.3h0M883.8 711.4h0M891.1 704.5h0M904.6 698.7h0M903.1 690.8h0M917.6 699.8h0M842.1 693.1h0M896.0 684.1h0M856.9 679.4h0M869.5 700.0h0M857.9 697.5h0M842.6 681.1h0M894.6 678.0h0M827.7 696.6h0M1021.7 746.7h0M1035.0 741.7h0M1042.0 738.7h0M1057.5 740.3h0M1042.5 745.0h0M1038.3 750.8h0M1047.5 753.3h0M1051.3 747.5h0M1055.0 757.5h0M1060.0 754.7h0M1070.8 759.2h0M1072.5 766.7h0M1070.8 775.8h0M1095.0 751.7h0M1092.5 757.5h0M1088.3 765.8h0M1095.8 765.0h0M1098.3 770.0h0M1085.0 775.8h0M1091.7 773.3h0M1094.2 784.2h0M1097.5 787.5h0M980.5 933.3h0M968.0 940.8h0M979.7 942.5h0M975.0 945.0h0M965.0 949.2h0M1006.7 937.5h0M1025.5 939.2h0M965.0 1087.8h0M968.3 1090.8h0M970.8 1093.0h0M973.3 1095.0h0M729.2 1070.0h0M726.7 1072.5h0M732.5 1077.5h0M740.0 1076.7h0M737.5 1084.2h0M746.7 1085.3h0M744.2 1091.3h0M751.7 1094.2h0M760.8 1086.7h0M758.3 1091.7h0M770.8 1086.7h0M769.2 1092.5h0M783.3 1087.2h0M768.3 1098.3h0M774.2 1100.8h0M781.7 1098.7h0M760.0 1099.2h0M755.0 1101.7h0M755.0 1107.5h0M757.5 1111.7h0M749.2 1115.0h0M753.3 1116.7h0M761.7 1126.7h0M771.7 1124.2h0M775.3 1131.7h0M783.3 1128.3h0M781.7 1124.2h0M786.7 1119.2h0M796.3 1122.5h0M796.7 1131.7h0M788.3 1116.7h0M783.3 1110.0h0M779.2 1117.7h0M776.1 1108.7h0M769.4 1118.0h0M770.3 1112.9h0M774.2 1122.5h0M766.3 1118.5h0M765.5 1107.3h0M767.1 1111.2h0M775.6 1112.1h0M777.3 1114.8h0M762.5 1114.1h0M769.8 1121.7h0M775.2 1119.3h0M769.2 1065.8h0M779.7 1073.8h0M809.2 1087.2h0M811.7 1098.3h0M817.8 1102.8h0M804.2 1118.3h0M810.3 1131.2h0M748.3 1067.2h0M751.7 1059.7h0M748.7 1052.0h0M750.8 1043.7h0M737.0 1047.2h0M820.5 1069.5h0M828.3 1072.2h0M833.3 1075.5h0M825.0 1079.2h0M838.3 1068.3h0M839.5 1063.0h0M850.3 1054.5h0M851.2 1003.7h0M869.2 1003.7h0M873.3 1000.0h0M819.0 1198.2h0M777.8 1151.2h0M816.1 1149.9h0M801.7 1148.3h0M808.6 1202.3h0M784.1 1162.3h0M786.4 1189.7h0M827.9 1163.3h0M828.6 1149.6h0M786.1 1175.5h0M801.1 1152.3h0M834.9 1173.1h0M795.0 1150.4h0M824.6 1145.8h0M781.9 1146.1h0M796.9 1168.9h0M816.1 1209.3h0M801.3 1181.5h0M800.0 1166.3h0M790.0 1192.7h0M825.3 1189.8h0M785.6 1155.5h0M799.6 1178.1h0M805.4 1159.4h0M792.1 1172.0h0M782.2 1174.0h0M803.2 1137.8h0M812.3 1153.7h0M818.2 1201.6h0M816.4 1154.1h0M826.2 1195.2h0M805.0 1208.4h0M825.1 1149.6h0M787.6 1169.7h0M789.4 1182.4h0M819.3 1181.1h0M811.3 1160.7h0M815.4 1184.5h0M793.9 1189.7h0M816.6 1166.7h0M808.6 1146.4h0M813.5 1157.1h0M805.6 1166.9h0M818.0 1161.0h0M786.8 1146.4h0M825.1 1155.3h0M793.9 1158.6h0M824.5 1205.3h0M825.1 1168.4h0M821.5 1159.4h0M828.8 1181.4h0M790.6 1153.1h0M804.7 1163.5h0M814.4 1141.5h0M812.7 1179.8h0M788.2 1163.4h0M820.0 1167.4h0M807.7 1154.4h0M814.2 1173.8h0M794.3 1145.7h0M812.7 1191.7h0M786.7 1186.1h0M833.6 1185.6h0M823.1 1163.4h0M817.1 1171.1h0M791.6 1149.0h0M807.8 1142.8h0M795.9 1209.3h0M787.5 1151.1h0M788.8 1159.8h0M811.8 1207.8h0M810.2 1211.2h0M808.1 1169.6h0M785.7 1180.6h0M652.0 525.3h0M656.0 526.7h0M653.3 530.7h0M650.7 534.7h0M648.7 539.3h0M656.7 532.0h0M670.0 535.3h0M670.7 540.0h0M662.7 541.3h0M671.3 544.0h0M656.0 546.7h0M660.0 550.0h0M663.3 547.3h0M670.0 550.0h0M675.3 547.3h0M676.7 550.7h0M675.3 554.7h0M690.4 549.3h0M688.0 554.7h0M691.3 558.7h0M694.0 567.3h0M699.3 556.0h0M657.3 557.3h0M662.7 558.7h0M664.7 562.7h0M653.3 564.7h0M660.0 566.7h0M652.0 569.3h0M658.7 570.7h0M664.0 569.3h0M669.3 569.3h0M661.3 574.0h0M656.7 577.3h0M666.7 578.7h0M669.3 576.0h0M672.7 580.7h0M654.7 582.4h0M670.7 584.7h0M660.7 588.0h0M674.0 587.3h0M674.7 593.7h0M683.3 576.0h0M680.7 579.3h0M686.0 584.0h0M691.3 592.7h0M699.1 592.4h0M689.1 602.4h0M696.7 603.3h0M662.7 598.0h0M666.0 596.7h0M663.3 604.0h0M664.0 613.1h0M668.0 610.0h0M672.7 612.0h0M677.3 610.4h0M673.3 616.0h0M676.0 620.0h0M679.3 622.7h0M673.3 625.3h0M680.7 628.7h0M684.7 628.0h0M687.3 620.7h0M688.0 613.3h0M694.0 610.4h0M656.0 621.1h0M662.3 628.7h0M688.4 636.0h0M679.3 642.7h0M679.6 644.7h0M656.7 646.7h0M666.7 647.7h0M654.0 650.7h0M660.0 653.3h0M664.7 654.7h0M653.3 655.3h0M660.0 658.7h0M666.7 658.7h0M660.3 672.3h0M653.3 672.0h0M650.0 666.7h0M1100.0 758.3h0M1101.7 762.5h0M1100.0 766.7h0M1105.0 770.0h0M1109.2 773.3h0M1101.7 780.8h0M1108.3 776.7h0M1111.7 780.8h0M1103.3 795.8h0M1125.0 776.2h0M1130.0 782.5h0M1136.7 773.3h0M1139.2 780.0h0M1133.3 778.3h0M1122.0 788.8h0M1135.0 792.5h0M1142.0 795.3h0M1157.8 769.5h0M1155.0 776.7h0M1162.5 778.0h0M1158.3 781.7h0M1150.0 786.7h0M1156.7 790.0h0M1151.7 795.0h0M1160.0 794.2h0M1164.2 798.3h0M1168.3 790.8h0M1173.3 793.3h0M1175.0 780.0h0M1171.7 782.5h0M1179.2 795.0h0M1185.0 790.8h0M1188.3 790.8h0M1183.3 801.7h0M1164.2 803.3h0M1178.3 805.8h0M1171.7 806.7h0M1166.2 810.0h0M1155.8 808.3h0M1156.7 813.0h0M1149.2 812.8h0M1198.3 791.7h0M1194.2 796.7h0M1200.0 800.0h0M1194.2 803.3h0M1206.7 790.8h0M1208.3 801.7h0M1206.7 806.7h0M1209.7 813.7h0M1129.7 813.3h0M1110.0 817.8h0M1216.3 779.2h0M1221.7 783.3h0M1227.5 778.3h0M1236.7 777.0h0M1240.8 778.3h0M1245.8 777.5h0M1251.7 773.3h0M1249.2 780.0h0M1255.0 783.3h0M1262.5 778.3h0M1261.7 786.7h0M1271.7 778.3h0M1274.2 785.8h0M1276.7 790.8h0M1285.5 781.3h0M1284.7 796.3h0M1235.0 790.0h0M1240.0 788.3h0M1243.3 788.3h0M1220.8 793.8h0M1232.5 797.0h0M1236.7 799.7h0M1221.3 800.0h0M1224.2 807.2h0M1230.8 810.8h0M1235.0 819.2h0M1240.0 813.3h0M1243.3 805.8h0M1244.2 813.3h0M1250.0 807.5h0M1256.7 802.5h0M1260.8 800.8h0M1262.5 810.0h0M1260.0 816.7h0M1270.0 801.7h0M1270.0 809.2h0M1282.5 805.0h0M1284.2 815.0h0M1292.5 800.8h0M1293.3 810.3h0M1307.2 803.3h0M1302.5 815.0h0M1316.7 786.2h0M1247.5 824.7h0M1253.3 821.7h0M1258.8 827.0h0M1265.0 828.3h0M1273.3 825.8h0M1277.5 829.2h0M1276.7 823.3h0M1284.2 821.7h0M1284.2 828.3h0M1291.7 826.7h0M1293.3 819.2h0M1298.3 825.8h0M1296.7 821.7h0M1305.0 820.0h0M1307.5 825.0h0M1303.3 832.5h0M1316.2 818.3h0M1313.3 833.3h0M1319.2 828.3h0M1325.0 826.7h0M1322.5 833.3h0M1328.3 818.3h0M1328.0 811.7h0M1332.5 833.3h0M1332.5 837.5h0M1340.0 815.8h0M1338.3 826.7h0M1341.7 833.3h0M1345.8 819.2h0M1348.3 828.3h0M1341.7 838.3h0M1348.3 838.3h0M1159.7 831.7h0M1144.2 841.3h0M1129.7 852.0h0M1142.8 851.3h0M1132.5 870.0h0M1117.5 883.0h0M1121.2 891.2h0M1132.5 891.7h0M1137.5 890.8h0M1129.2 895.0h0M1125.0 902.0h0M1129.2 904.2h0M1135.0 902.0h0M1110.0 919.7h0M1139.2 914.7h0M1143.3 920.0h0M1145.8 924.2h0M1148.3 927.5h0M1150.0 930.8h0M1145.8 928.3h0M1155.8 933.3h0M1179.2 940.0h0M1183.3 942.0h0M1187.5 943.0h0M1191.7 943.7h0M1211.7 942.2h0M1207.2 950.0h0M1103.3 945.5h0M1177.1 792.0h0M1171.3 800.5h0M1172.4 797.4h0M1164.7 791.5h0M1183.7 787.9h0M1183.3 796.2h0M1172.1 788.9h0M1159.0 785.7h0M1365.0 803.8h0M1356.2 812.5h0M1370.0 811.3h0M1386.7 815.3h0M1360.0 825.0h0M1370.3 828.0h0M1351.7 830.0h0M1358.3 833.3h0M1366.7 834.2h0M1352.5 837.5h0M1360.0 839.7h0M1367.5 843.7h0M1382.0 835.1h0M1386.7 840.2h0M1382.3 829.2h0M1378.5 832.1h0M1384.2 846.7h0M1395.3 835.4h0M1392.3 852.7h0M1385.8 832.1h0M1377.1 837.0h0M1390.2 831.8h0M1394.1 832.0h0M1378.4 840.3h0M1424.8 817.2h0M1411.8 818.6h0M1399.9 830.3h0M1408.6 842.2h0M1410.0 828.2h0M1418.6 826.7h0M1431.0 823.0h0M1399.6 820.4h0M1427.8 822.8h0M1402.6 837.7h0M1418.7 823.5h0M1431.4 818.9h0M1404.4 830.8h0M1416.6 815.3h0M1413.7 831.7h0M1412.5 815.3h0M1400.8 825.3h0M1425.3 827.0h0M1416.7 844.2h0M1414.2 851.7h0M1425.0 838.0h0M1431.7 837.5h0M1440.0 838.0h0M1435.0 845.8h0M1427.8 856.7h0M1470.0 792.2h0M1481.3 795.8h0M1464.7 803.0h0M1507.5 789.2h0M1509.2 789.5h0M1522.5 787.5h0M1536.7 788.3h0M1529.5 795.0h0M1509.2 807.5h0M1542.0 801.3h0M1550.8 796.7h0M1555.8 795.5h0M1449.0 837.0h0M1509.2 844.2h0M1530.0 838.2h0M1458.2 871.7h0M1442.3 857.2h0M1449.0 871.6h0M1436.0 854.6h0M1490.5 849.0h0M1483.4 815.2h0M1529.6 845.8h0M1514.9 860.2h0M1454.8 864.0h0M1517.0 857.8h0M1471.8 879.5h0M1447.2 816.1h0M1480.0 819.1h0M1513.4 870.3h0M1514.3 824.7h0M1495.8 823.9h0M1492.2 843.2h0M1522.1 865.2h0M1440.4 816.7h0M1478.3 816.1h0M1483.8 822.7h0M1473.2 865.6h0M1466.7 859.4h0M1487.9 873.1h0M1503.4 871.7h0M1463.3 855.1h0M1499.6 825.2h0M1458.7 853.4h0M1490.6 880.0h0M1539.6 834.7h0M1452.9 843.8h0M1478.0 868.0h0M1444.6 843.7h0M1522.8 855.8h0M1506.7 831.6h0M1475.0 829.6h0M1461.2 808.4h0M1503.7 842.1h0M1478.8 862.7h0M1460.4 845.6h0M1505.5 852.3h0M1514.5 827.7h0M1516.9 847.8h0M1523.3 848.4h0M1457.8 822.3h0M1484.9 844.8h0M1452.7 866.8h0M1448.8 867.2h0M1496.5 873.6h0M1463.1 837.2h0M1489.5 845.3h0M1526.7 842.5h0M1451.5 834.3h0M1511.5 863.0h0M1448.3 821.5h0M1451.0 850.2h0M1445.9 856.3h0M1447.0 800.0h0M1476.1 824.6h0M1441.8 852.2h0M1444.7 813.4h0M1481.1 854.8h0M1507.5 847.9h0M1473.6 868.9h0M1473.4 849.0h0M1542.5 836.3h0M1445.9 809.4h0M1506.4 867.8h0M1453.4 816.2h0M1476.6 849.2h0M1530.8 848.5h0M1460.3 860.5h0M1447.0 805.4h0M1495.5 837.3h0M1453.8 848.0h0M1475.7 840.3h0M1533.7 837.5h0M1452.5 812.6h0M1473.5 810.0h0M1491.9 875.5h0M1500.0 853.3h0M1501.1 856.7h0M1468.6 851.4h0M1505.8 822.5h0M1470.1 867.4h0M1444.6 831.9h0M1482.7 882.4h0M1520.9 842.8h0M1483.9 833.9h0M1455.5 856.5h0M1498.7 845.1h0M1497.7 830.0h0M1474.6 883.4h0M1481.5 844.3h0M1481.6 876.0h0M1509.9 831.6h0M1470.0 836.0h0M1447.8 843.9h0M1443.2 839.9h0M1451.9 802.3h0M1457.4 876.1h0M1512.7 849.4h0M1531.9 822.6h0M1452.5 875.4h0M1518.1 865.3h0M1524.3 829.7h0M1508.7 835.5h0M1481.3 858.9h0M1496.3 850.8h0M1515.9 852.6h0M1495.9 863.1h0M1477.5 857.8h0M1467.9 823.9h0M1505.6 835.2h0M1504.9 856.6h0M1467.2 813.2h0M1504.1 846.6h0M1489.5 831.1h0M1463.5 862.8h0M1467.1 816.7h0M1486.8 868.2h0M1525.8 837.9h0M1445.3 824.3h0M1509.9 859.4h0M1450.5 798.9h0M1469.1 873.2h0M1464.0 834.1h0M1521.7 861.1h0M1515.0 873.3h0M1492.1 857.6h0M1499.0 867.1h0M1461.0 829.2h0M1461.6 876.3h0M1504.0 861.4h0M1469.1 884.3h0M1484.4 855.9h0M1450.0 828.7h0M1503.0 838.0h0M1451.8 821.3h0M1520.0 829.5h0M1463.1 814.3h0M1466.9 805.2h0M1472.4 838.5h0M1457.3 813.9h0M1466.1 867.4h0M1464.1 847.6h0M1485.5 859.3h0M1527.6 863.6h0M1496.8 877.8h0M1471.0 815.4h0M1539.1 830.2h0M1440.1 809.8h0M1520.2 823.4h0M1510.6 821.3h0M1439.8 855.3h0M1599.2 795.8h0M1601.7 800.0h0M1604.2 804.2h0M1580.0 795.0h0M1580.8 800.8h0M1586.7 805.8h0M1618.7 798.3h0M1615.2 840.6h0M1614.1 837.0h0M1620.7 816.8h0M1608.6 847.6h0M1605.1 871.2h0M1628.5 822.8h0M1604.7 848.0h0M1632.6 815.6h0M1619.6 835.1h0M1615.6 828.7h0M1609.4 851.9h0M1625.4 811.2h0M1602.5 861.8h0M1603.8 853.4h0M1605.5 862.9h0M1621.3 831.5h0M1624.0 817.5h0M1613.7 821.8h0M1618.2 840.2h0M1608.6 867.5h0M1608.5 834.6h0M1626.3 828.2h0M1605.6 838.9h0M1612.9 848.6h0M1620.4 825.3h0M1618.8 851.7h0M1632.2 823.5h0M1606.3 843.0h0M1624.5 825.3h0M1607.2 855.0h0M1618.4 848.9h0M1613.0 831.9h0M1623.6 834.7h0M1617.0 814.0h0M1647.9 833.8h0M1575.3 868.9h0M1571.2 864.3h0M1602.5 821.7h0M1643.0 837.6h0M1572.1 809.1h0M1603.2 814.2h0M1622.6 847.9h0M1562.9 863.1h0M1646.4 838.3h0M1577.7 874.8h0M1563.1 834.5h0M1641.2 818.0h0M1616.1 809.9h0M1599.4 856.8h0M1577.9 826.3h0M1573.3 805.1h0M1557.0 878.4h0M1573.9 842.0h0M1567.6 873.7h0M1579.9 870.1h0M1555.3 841.9h0M1558.4 841.8h0M1588.1 838.5h0M1572.7 875.2h0M1584.4 857.9h0M1563.5 851.8h0M1588.2 871.0h0M1636.9 805.8h0M1583.0 810.4h0M1590.3 850.4h0M1583.7 837.6h0M1617.4 832.9h0M1557.5 870.8h0M1542.9 815.5h0M1559.6 847.9h0M1595.8 846.2h0M1619.5 820.8h0M1629.1 841.2h0M1613.2 864.5h0M1580.1 856.0h0M1584.2 830.1h0M1581.2 835.9h0M1560.4 875.1h0M1622.2 822.3h0M1563.6 822.0h0M1582.5 852.9h0M1547.4 814.6h0M1580.8 877.7h0M1589.4 858.3h0M1630.9 836.7h0M1580.4 863.0h0M1568.6 877.8h0M1633.8 805.0h0M1569.7 839.0h0M1629.9 813.8h0M1577.4 837.0h0M1581.2 841.7h0M1572.3 813.4h0M1565.6 819.2h0M1563.2 877.0h0M1576.7 849.4h0M1563.5 859.2h0M1567.3 866.7h0M1627.0 816.9h0M1601.9 834.9h0M1574.0 861.8h0M1594.2 814.0h0M1576.7 833.2h0M1562.3 844.5h0M1574.1 817.7h0M1564.5 827.1h0M1587.2 834.4h0M1569.9 811.2h0M1564.4 838.5h0M1598.7 814.6h0M1588.3 875.8h0M1619.1 809.0h0M1587.8 814.1h0M1611.9 814.2h0M1589.9 810.9h0M1584.5 878.9h0M1605.6 822.1h0M1592.9 822.9h0M1593.8 863.6h0M1646.4 805.9h0M1560.7 838.3h0M1550.3 809.1h0M1623.3 840.9h0M1589.8 842.7h0M1572.3 825.0h0M1545.0 872.6h0M1554.9 822.4h0M1568.0 848.6h0M1634.6 838.9h0M1593.8 856.3h0M1567.9 805.2h0M1588.5 847.9h0M1633.8 810.1h0M1583.9 868.6h0M1601.1 875.9h0M1639.0 825.9h0M1569.5 833.0h0M1585.1 864.6h0M1584.9 821.6h0M1566.4 824.7h0M1605.2 857.9h0M1602.3 865.9h0M1551.2 867.5h0M1556.6 875.3h0M1576.6 811.0h0M1609.1 841.5h0M1637.4 836.2h0M1592.8 866.7h0M1567.1 808.5h0M1613.7 825.4h0M1428.4 832.3h0M1362.8 842.3h0M1421.3 814.9h0M1355.9 824.9h0M1365.8 826.5h0M1333.3 821.0h0M1372.9 843.9h0M1384.1 826.7h0M1410.5 832.8h0M1346.7 831.5h0M1413.8 828.5h0M1412.4 838.2h0M1420.7 819.7h0M1407.7 824.5h0M1371.0 839.5h0M1416.6 820.8h0M1422.3 833.3h0M1397.8 846.3h0M1371.8 834.1h0M1338.9 831.0h0M1343.8 830.9h0M1394.5 839.2h0M1342.7 819.7h0M1427.5 835.7h0M1414.9 846.9h0M1403.6 818.9h0M1422.3 842.5h0M1395.0 850.2h0M1331.2 816.8h0M1465.4 871.2h0M1472.8 856.9h0M1451.4 862.3h0M1479.2 883.1h0M1483.3 868.0h0M1476.1 854.5h0M1455.9 852.0h0M1452.5 879.8h0M1488.7 854.0h0M1488.6 858.5h0M1483.4 879.3h0M1561.7 722.2h0M1579.2 733.3h0M1580.8 735.8h0M1579.2 739.2h0M1582.5 740.8h0M1590.0 737.0h0M1587.5 742.5h0M1580.8 746.7h0M1579.2 752.2h0M1591.3 755.0h0M1579.5 771.2h0M1574.2 777.0h0M1645.8 724.7h0M1642.5 740.8h0M1648.3 742.2h0M1640.8 745.0h0M1644.2 746.7h0M1638.3 749.2h0M1641.7 750.8h0M1630.0 763.3h0M1629.2 766.7h0M1627.5 771.7h0M1621.7 777.5h0M1642.0 779.2h0M1623.3 781.7h0M1620.0 787.5h0M1625.0 786.7h0M1630.8 790.0h0M1623.3 792.5h0M1642.0 795.0h0M1646.7 798.3h0M1640.8 801.7h0M1644.2 805.0h0M850.4 952.1h0M858.3 970.7h0M891.5 956.6h0M901.8 966.0h0M907.1 966.0h0M895.4 970.7h0M898.6 975.0h0M900.7 977.6h0M914.2 972.4h0M920.6 965.8h0M925.4 969.2h0M939.3 961.5h0M942.9 957.9h0M945.1 965.4h0M879.7 981.9h0M871.1 984.6h0M894.3 981.0h0M890.4 986.8h0M922.1 988.9h0M882.5 991.1h0M876.1 990.0h0M872.9 993.2h0M876.1 996.4h0M867.5 998.1h0M860.4 994.7h0M1076.4 999.2h0M1096.4 1002.0h0M1207.1 951.4h0M1209.3 953.6h0M1218.9 958.3h0M1223.9 960.4h0M1223.2 970.3h0M1229.6 964.3h0M1233.9 963.9h0M1232.9 968.6h0M1230.7 971.8h0M1235.0 976.1h0M1239.7 978.9h0M1240.8 960.0h0M1240.4 973.9h0M1108.1 1030.7h0M1108.6 1035.0h0M1112.9 1037.1h0M1110.7 1041.4h0M1115.0 1044.6h0M1110.7 1048.5h0M1117.1 1050.0h0M1116.1 1053.2h0M1119.3 1056.4h0M1124.0 1039.7h0M1125.3 1046.8h0M1132.1 1058.1h0M1126.8 1061.8h0M1124.6 1065.4h0M1148.7 1093.6h0M1143.4 1079.1h0M1127.8 1069.1h0M1127.2 1086.8h0M1151.9 1108.8h0M1132.4 1077.8h0M1139.9 1107.1h0M1129.6 1081.5h0M1122.2 1078.7h0M1149.5 1117.4h0M1141.0 1096.8h0M1141.8 1117.3h0M1134.1 1072.7h0M1124.0 1097.9h0M1116.9 1072.5h0M1119.0 1083.1h0M1143.3 1107.8h0M1146.0 1109.8h0M1144.9 1084.1h0M1138.9 1111.3h0M1123.5 1073.3h0M1139.4 1093.1h0M1141.8 1110.6h0M1126.8 1077.2h0M1135.5 1100.7h0M1123.1 1087.0h0M1128.2 1097.8h0M1140.0 1081.4h0M1122.2 1067.4h0M1146.6 1112.8h0M1133.4 1097.8h0M1125.1 1094.3h0M1125.5 1100.9h0M1144.8 1097.2h0M1130.2 1094.5h0M1142.5 1090.6h0M1145.9 1090.4h0M1131.6 1070.2h0M1134.9 1082.1h0M1141.7 1085.6h0M1135.1 1085.9h0M1137.6 1104.1h0M1132.3 1089.6h0M1136.7 1107.8h0M1133.5 1104.8h0M1146.7 1103.1h0M1150.7 1112.6h0M1131.0 1086.8h0M1137.1 1089.5h0M1154.7 1112.8h0M1151.5 1086.4h0M1129.9 1073.9h0M1143.5 1100.2h0M1150.0 1106.4h0"/>
<path class="pt" stroke="#b73779" d="M941.7 271.7h0M971.7 247.2h0M868.0 294.2h0M864.2 297.5h0M888.7 305.5h0M857.5 315.5h0M881.3 327.5h0M858.0 411.3h0M836.7 425.3h0M877.5 443.8h0M804.2 449.2h0M1557.7 328.7h0M1563.7 328.3h0M1566.7 330.0h0M1570.7 332.0h0M1564.7 337.1h0M1566.7 333.3h0M1603.3 330.7h0M1608.7 328.7h0M1599.3 334.0h0M1618.7 327.6h0M1614.0 336.0h0M1620.0 342.7h0M1619.3 346.0h0M1613.3 347.3h0M1608.7 349.1h0M1614.7 351.3h0M1611.3 359.3h0M1604.0 358.7h0M1604.3 361.3h0M1641.3 346.0h0M1642.7 353.3h0M1650.7 352.7h0M1651.3 354.9h0M1684.0 342.4h0M1643.7 369.3h0M1660.9 369.6h0M1670.4 378.7h0M1645.6 385.1h0M1662.4 386.0h0M1659.3 391.3h0M1639.3 392.7h0M1640.0 396.0h0M1640.7 399.3h0M1658.0 402.0h0M1662.0 404.0h0M1666.7 405.3h0M1670.7 406.7h0M1677.3 405.1h0M1674.7 407.3h0M1666.7 411.3h0M1669.3 413.3h0M1670.0 417.3h0M1706.9 305.6h0M804.7 451.7h0M808.0 458.3h0M811.3 486.3h0M815.8 505.8h0M835.3 505.5h0M827.0 511.7h0M826.2 526.7h0M832.5 550.5h0M870.0 582.2h0M860.8 591.3h0M832.0 597.2h0M849.7 646.3h0M839.2 656.3h0M893.3 688.3h0M881.7 695.8h0M930.0 530.8h0M894.2 535.8h0M898.3 550.5h0M928.7 547.5h0M945.8 545.3h0M943.3 555.5h0M950.5 556.7h0M941.2 561.3h0M972.0 567.5h0M913.8 573.3h0M930.0 577.2h0M957.8 577.2h0M701.7 560.0h0M754.5 596.0h0M917.0 644.7h0M929.5 643.3h0M935.0 652.5h0M950.5 648.3h0M957.2 650.8h0M958.3 656.7h0M898.3 660.3h0M902.0 665.0h0M978.7 664.5h0M988.8 664.5h0M998.3 661.7h0M950.0 675.3h0M953.3 678.7h0M955.8 682.0h0M923.3 683.0h0M947.5 684.7h0M945.0 688.3h0M996.7 681.2h0M915.8 695.0h0M970.0 697.8h0M376.7 599.5h0M340.0 642.8h0M350.5 648.8h0M339.2 683.8h0M333.3 687.8h0M356.7 688.3h0M384.7 712.0h0M387.0 718.3h0M374.5 728.8h0M436.7 717.5h0M648.3 671.7h0M639.2 685.8h0M436.7 717.5h0M502.8 819.5h0M544.7 845.5h0M551.3 865.8h0M555.3 895.5h0M592.5 848.0h0M593.3 866.7h0M596.2 901.7h0M610.8 800.5h0M615.0 803.7h0M641.2 800.5h0M637.5 809.2h0M660.3 816.7h0M658.0 780.5h0M694.2 769.5h0M735.0 769.2h0M721.7 791.2h0M731.7 789.2h0M742.0 785.8h0M747.5 743.7h0M661.7 832.8h0M674.2 835.8h0M680.0 832.8h0M665.5 842.2h0M647.0 846.3h0M657.5 858.3h0M660.8 860.8h0M666.7 863.3h0M702.5 862.5h0M709.7 873.0h0M741.3 828.3h0M728.8 840.0h0M629.2 893.3h0M643.3 890.0h0M657.2 893.3h0M633.0 903.7h0M666.7 905.0h0M636.7 918.3h0M670.8 916.2h0M676.7 916.2h0M722.5 893.3h0M723.3 899.2h0M728.7 912.5h0M726.3 920.8h0M686.7 924.2h0M690.0 927.5h0M667.2 930.0h0M709.2 934.7h0M715.8 936.3h0M631.7 946.7h0M635.8 944.7h0M649.5 947.8h0M672.2 960.0h0M708.3 956.2h0M669.5 974.2h0M664.2 978.7h0M701.2 975.0h0M631.2 981.7h0M777.5 973.3h0M773.0 982.8h0M691.7 1011.3h0M688.8 1033.0h0M815.5 710.8h0M832.8 705.0h0M762.5 731.7h0M840.8 737.0h0M763.8 749.2h0M928.7 716.3h0M970.0 700.0h0M779.7 813.3h0M786.7 832.5h0M762.5 854.2h0M1024.2 738.7h0M1026.3 743.7h0M1088.0 751.3h0M729.7 1007.5h0M731.7 1033.8h0M765.0 1063.8h0M804.7 1088.3h0M783.3 1106.7h0M799.2 1105.3h0M808.3 1118.7h0M811.7 1119.2h0M760.0 1119.7h0M793.7 1129.2h0M798.7 1146.3h0M780.5 1155.5h0M802.8 1170.8h0M794.2 1176.3h0M809.2 1177.5h0M823.0 1178.7h0M832.5 1180.8h0M805.5 1184.7h0M818.8 1185.5h0M830.0 1187.0h0M806.7 1189.2h0M798.3 1196.2h0M815.0 1198.7h0M814.2 1203.7h0M800.5 1204.2h0M799.2 1207.5h0M801.2 1216.7h0M956.2 1087.2h0M663.3 533.7h0M1108.3 763.8h0M1118.0 775.5h0M1140.8 802.2h0M1180.5 788.7h0M1255.8 814.7h0M1317.5 813.7h0M1422.2 824.7h0M1464.2 827.5h0M1550.0 821.3h0M1563.8 814.2h0M1567.5 815.0h0M1608.3 824.2h0M1603.3 830.3h0M1609.7 829.2h0M1647.5 818.7h0M1643.7 825.3h0M1643.0 831.7h0M1539.7 852.0h0M1500.5 864.2h0M1548.3 872.5h0M1595.0 870.0h0M1592.0 873.3h0M1610.8 870.3h0M1645.0 727.5h0M908.9 971.1h0M885.7 983.1h0M1241.9 962.8h0M1237.8 972.2h0M1141.4 1102.5h0"/>
<path class="pt" stroke="#fd9668" d="M1608.3 337.3h0M1619.7 356.7h0M1651.7 379.3h0M1701.3 307.6h0M1715.7 297.7h0M840.8 686.7h0M896.7 586.3h0M720.8 580.3h0M740.8 596.7h0M668.3 799.2h0M663.3 804.7h0M566.7 869.7h0M679.7 866.7h0M743.7 840.5h0M642.8 943.3h0M781.7 955.8h0M752.8 967.5h0M1540.0 861.2h0"/>
<path class="pt" stroke="#fcfdbf" d="M898.3 282.5h0"/>
</g>
<g id="axes" stroke="#000" stroke-width="4.6" fill="none" stroke-linecap="butt">
<path d="M205.5 142.7V1304.8"/>
<path d="M203.2 1302.5H1829.1"/>
<path d="M191 197.6H203.5"/>
<path d="M191 490.0H203.5"/>
<path d="M191 782.4H203.5"/>
<path d="M191 1074.8H203.5"/>
<path d="M279.1 1304.5V1316.7"/>
<path d="M599.6 1304.5V1316.7"/>
<path d="M920.0 1304.5V1316.7"/>
<path d="M1240.5 1304.5V1316.7"/>
<path d="M1561.0 1304.5V1316.7"/>
</g>
<text class="ax" text-anchor="end" transform="translate(177.5 216.5) scale(1 1.045)">10</text>
<text class="ax" text-anchor="end" transform="translate(177.5 508.9) scale(1 1.045)">5</text>
<text class="ax" text-anchor="end" transform="translate(177.5 801.3) scale(1 1.045)">0</text>
<text class="ax" text-anchor="end" transform="translate(177.5 1093.7) scale(1 1.045)">-5</text>
<text class="ax" text-anchor="middle" transform="translate(279.1 1366.4) scale(1 1.045)">-10</text>
<text class="ax" text-anchor="middle" transform="translate(599.6 1366.4) scale(1 1.045)">-5</text>
<text class="ax" text-anchor="middle" transform="translate(920.0 1366.4) scale(1 1.045)">0</text>
<text class="ax" text-anchor="middle" transform="translate(1240.5 1366.4) scale(1 1.045)">5</text>
<text class="ax" text-anchor="middle" transform="translate(1561.0 1366.4) scale(1 1.045)">10</text>
<text class="at" text-anchor="middle" transform="translate(1017.0 1435.1) scale(1 1.045)">UMAP_1</text>
<text class="at" text-anchor="middle" transform="translate(95.0 722.5) rotate(-90) scale(1 1.045)">UMAP_2</text>
<text class="tt" text-anchor="middle" transform="translate(1016.7 101.0) scale(1 1.067)">ZBTB7B</text>
<defs><linearGradient id="mg" x1="0" y1="0" x2="0" y2="1"><stop offset="0.000" stop-color="#fcfdbf"/><stop offset="0.050" stop-color="#fde7a9"/><stop offset="0.100" stop-color="#fecf92"/><stop offset="0.150" stop-color="#feb77e"/><stop offset="0.200" stop-color="#fe9f6d"/><stop offset="0.250" stop-color="#fc8961"/><stop offset="0.300" stop-color="#f7705c"/><stop offset="0.350" stop-color="#ed5a5f"/><stop offset="0.400" stop-color="#de4968"/><stop offset="0.450" stop-color="#ca3e72"/><stop offset="0.500" stop-color="#b73779"/><stop offset="0.550" stop-color="#a1307e"/><stop offset="0.600" stop-color="#8c2981"/><stop offset="0.650" stop-color="#782281"/><stop offset="0.700" stop-color="#641a80"/><stop offset="0.750" stop-color="#51127c"/><stop offset="0.800" stop-color="#3b0f70"/><stop offset="0.850" stop-color="#251255"/><stop offset="0.900" stop-color="#140e36"/><stop offset="0.950" stop-color="#07061c"/><stop offset="1.000" stop-color="#000004"/></linearGradient></defs>
<rect x="1884.9" y="578" width="64.2" height="319" fill="url(#mg)"/>
<g stroke="#fff" stroke-width="1.6">
<path d="M1884.9 667.3h12.8M1949.1 667.3h-12.8"/>
<path d="M1884.9 782.7h12.8M1949.1 782.7h-12.8"/>
<path d="M1884.9 897.0h12.8M1949.1 897.0h-12.8"/>
</g>
<g>
<text class="ax" transform="translate(1977.5 686.9) scale(1 1.045)">1.0</text>
<text class="ax" transform="translate(1977.5 802.3) scale(1 1.045)">0.5</text>
<text class="ax" transform="translate(1977.5 916.6) scale(1 1.045)">0.0</text>
</g>
</svg>
</body></html>
